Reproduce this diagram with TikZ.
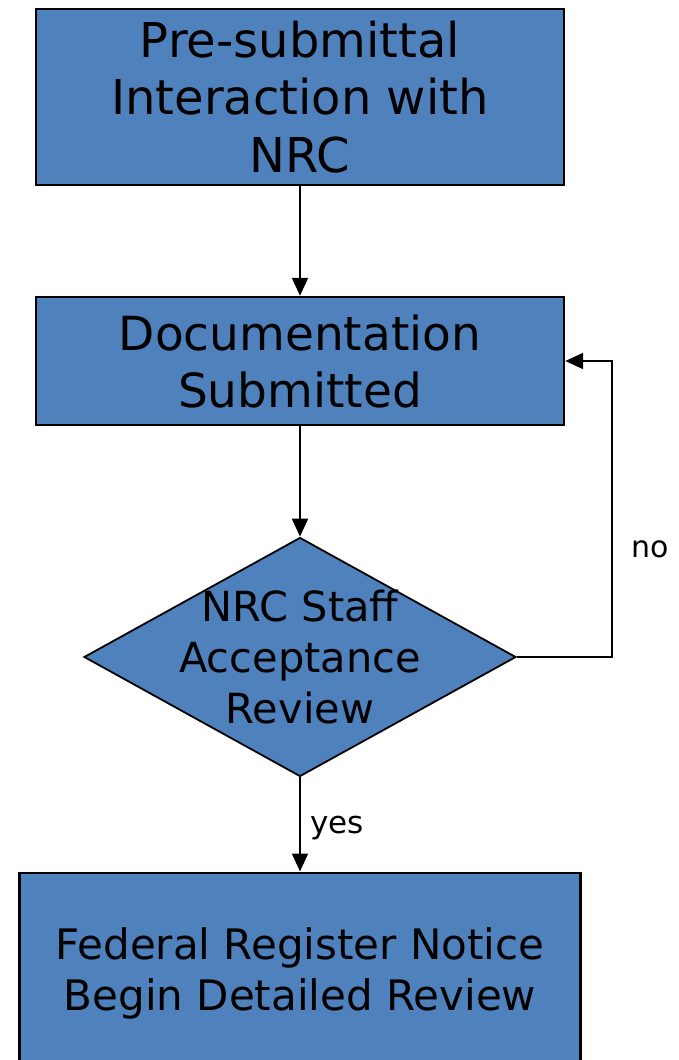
\documentclass[tikz,border=0pt]{standalone}
\usepackage{fontspec}
\setmainfont{DejaVu Sans}
\usetikzlibrary{shapes.geometric,arrows.meta}
\definecolor{boxblue}{HTML}{4F81BD}
\begin{document}
\begin{tikzpicture}[x=1pt,y=1pt,
  proc/.style={draw=black,fill=boxblue,line width=2.4pt,inner sep=0pt,align=center,text=black},
  dec/.style={diamond,draw=black,fill=boxblue,line width=1.8pt,inner sep=0pt},
  conn/.style={line width=2pt,-{Triangle[length=18pt,width=16pt]}},
  lbl/.style={inner sep=0pt,anchor=base}]
\clip (0,0) rectangle (679,-1060);
\node[proc,minimum width=528,minimum height=176,font=\fontsize{48}{57.5}\selectfont] (b1) at (300,-97) {Pre-submittal\\Interaction with\\NRC};
\node[proc,minimum width=528,minimum height=128,font=\fontsize{47}{57}\selectfont] (b2) at (300,-361) {Documentation\\Submitted};
\node[dec,minimum width=432,minimum height=239] (d) at (300,-657) {};
\node[align=center,inner sep=0pt,font=\fontsize{41.5}{51}\selectfont] (dt) at (d.center) {NRC Staff\\Acceptance\\Review};
\node[proc,minimum width=561,minimum height=202,font=\fontsize{42}{51}\selectfont] (b3) at (300,-973.7) {Federal Register Notice\\Begin Detailed Review};
\coordinate (c) at (612,-657);
\draw[conn] (b1.south) -- (b2.north);
\draw[conn] (b2.south) -- (d.north);
\draw[conn] (d.south) -- (b3.north);
\draw[conn] (d.east) -- (c) |- (b2.east);
\node[lbl,font=\fontsize{30}{36}\selectfont] (no) at (650,-557.7) {no};
\node[lbl,font=\fontsize{31}{36}\selectfont] (yes) at (337,-833) {yes};
\end{tikzpicture}
\end{document}
